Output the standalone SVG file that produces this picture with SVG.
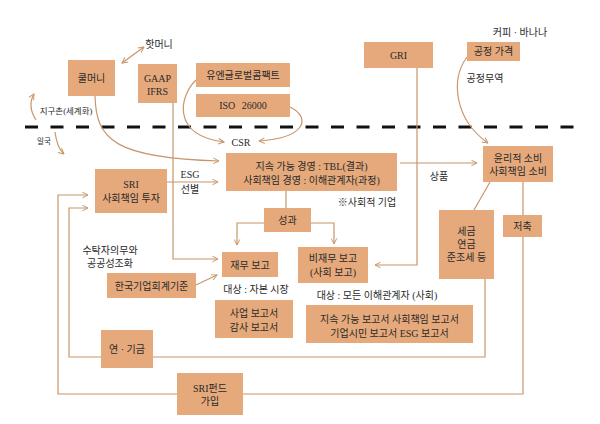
<svg xmlns="http://www.w3.org/2000/svg" width="600" height="424" viewBox="0 0 600 424">
<defs>
<style>
.bg{fill:#ffffff}
.box{fill:#E5A97B}
.t{font-family:"Liberation Serif","Noto Sans CJK KR",serif;font-size:10px;fill:#2a2a2a;text-anchor:middle;dominant-baseline:central}
.s{font-size:8.5px}
.xs{font-size:7.5px}
.ln{fill:none;stroke:#C8966A;stroke-width:1.2}
.arr{marker-end:url(#ah)}
.dash{fill:none;stroke:#111;stroke-width:3;stroke-dasharray:13 12.5}
</style>
<marker id="ah" viewBox="0 0 10 10" refX="9" refY="5" markerWidth="7" markerHeight="7" markerUnits="userSpaceOnUse" orient="auto-start-reverse">
<path d="M1,1 L9,5 L1,9" fill="none" stroke="#C8966A" stroke-width="1.4"/>
</marker>
</defs>
<rect class="bg" x="0" y="0" width="600" height="424"/>
<line class="dash" x1="25" y1="127" x2="575" y2="127"/>
<g id="connectors">
<path class="ln" d="M122 63 L144 47" marker-start="url(#ah)" marker-end="url(#ah)"/>
<path class="ln arr" d="M36 120 Q27 106 34 94"/>
<path class="ln arr" d="M55 132 Q57 148 64 154"/>
<path class="ln arr" d="M95 96 C96 140 115 158 219 161"/>
<path class="ln arr" d="M173 103 V259 H218"/>
<path class="ln arr" d="M196 80 C180 95 170 135 224 142"/>
<path class="ln arr" d="M290 107 C312 118 305 138 259 141"/>
<path class="ln arr" d="M417 68 V265 H375"/>
<path class="ln arr" d="M467 57 C450 80 455 120 488 143"/>
<path class="ln arr" d="M400 163 H477"/>
<path class="ln arr" d="M167 182 H218"/>
<path class="ln" d="M286 191 V208"/>
<path class="ln arr" d="M264 223 H237 V245"/>
<path class="ln arr" d="M311 223 H334 V244"/>
<path class="ln arr" d="M196 285 L217 275"/>
<path class="ln" d="M490 182 L474 210"/>
<path class="ln arr" d="M523 182 V394 H58 V195 H88"/>
<path class="ln arr" d="M485 279 V357 H69 V208 H88"/>
</g>
<g id="labels">
<text class="t" x="159" y="44">핫머니</text>
<text class="t s" x="66" y="111">지구촌(세계화)</text>
<text class="t xs" x="44" y="141">일국</text>
<text class="t" x="241" y="142">CSR</text>
<text class="t" x="190" y="174">ESG</text>
<text class="t" x="190" y="189">선별</text>
<text class="t" x="439" y="176">상품</text>
<text class="t" x="367" y="202">※사회적 기업</text>
<text class="t" x="110" y="250">수탁자의무와</text>
<text class="t" x="110" y="263">공공성조화</text>
<text class="t" x="256" y="289">대상 : 자본 시장</text>
<text class="t" x="377" y="295">대상 : 모든 이해관계자 (사회)</text>
<text class="t" x="520" y="32">커피 · 바나나</text>
<text class="t" x="485" y="78">공정무역</text>
</g>
<g id="coolmoney"><rect class="box" x="68" y="60" width="47" height="36"/><text class="t" x="91.5" y="78">쿨머니</text></g>
<g id="gaap"><rect class="box" x="138" y="64" width="39" height="39"/><text class="t" x="157.5" y="78">GAAP</text><text class="t" x="157.5" y="91">IFRS</text></g>
<g id="ungc"><rect class="box" x="196" y="63" width="94" height="24"/><text class="t" x="243" y="75">유엔글로벌콤팩트</text></g>
<g id="iso"><rect class="box" x="196" y="94" width="94" height="23"/><text class="t" x="243" y="105.5" style="word-spacing:4px">ISO 26000</text></g>
<g id="gri"><rect class="box" x="364" y="42" width="69" height="26"/><text class="t" x="398.5" y="55">GRI</text></g>
<g id="fairprice"><rect class="box" x="467" y="42" width="53" height="19"/><text class="t" x="493.5" y="51.5">공정 가격</text></g>
<g id="sustain"><rect class="box" x="226" y="153" width="171" height="38"/><text class="t" x="311.5" y="166">지속 가능 경영 : TBL(결과)</text><text class="t" x="311.5" y="180">사회책임 경영 : 이해관계자(과정)</text></g>
<g id="sri"><rect class="box" x="95" y="169" width="72" height="44"/><text class="t" x="131" y="184">SRI</text><text class="t" x="131" y="198">사회책임 투자</text></g>
<g id="ethical"><rect class="box" x="483" y="146" width="70" height="36"/><text class="t" x="518" y="158">윤리적 소비</text><text class="t" x="518" y="171.5">사회책임 소비</text></g>
<g id="result"><rect class="box" x="264" y="208" width="47" height="24"/><text class="t" x="287.5" y="220.5">성과</text></g>
<g id="tax"><rect class="box" x="439" y="210" width="55" height="69"/><text class="t" x="466.5" y="231">세금</text><text class="t" x="466.5" y="244">연금</text><text class="t" x="466.5" y="257">준조세 등</text></g>
<g id="saving"><rect class="box" x="503" y="215" width="39" height="22"/><text class="t" x="522.5" y="226.5">저축</text></g>
<g id="finreport"><rect class="box" x="222" y="252" width="56" height="25"/><text class="t" x="250" y="265">재무 보고</text></g>
<g id="nonfin"><rect class="box" x="298" y="247" width="70" height="36"/><text class="t" x="333" y="258">비재무 보고</text><text class="t" x="333" y="272">(사회 보고)</text></g>
<g id="kgaap"><rect class="box" x="107" y="273" width="89" height="25"/><text class="t" x="151.5" y="286">한국기업회계기준</text></g>
<g id="bizreport"><rect class="box" x="215" y="300" width="78" height="38"/><text class="t" x="254" y="313">사업 보고서</text><text class="t" x="254" y="327">감사 보고서</text></g>
<g id="susreport"><rect class="box" x="306" y="305" width="167" height="38"/><text class="t" x="389.5" y="319">지속 가능 보고서 사회책임 보고서</text><text class="t" x="389.5" y="333">기업시민 보고서 ESG 보고서</text></g>
<g id="pension"><rect class="box" x="101" y="330" width="52" height="38"/><text class="t" x="127" y="349">연 · 기금</text></g>
<g id="srifund"><rect class="box" x="177" y="373" width="66" height="42"/><text class="t" x="210" y="388">SRI펀드</text><text class="t" x="210" y="401">가입</text></g>
</svg>
